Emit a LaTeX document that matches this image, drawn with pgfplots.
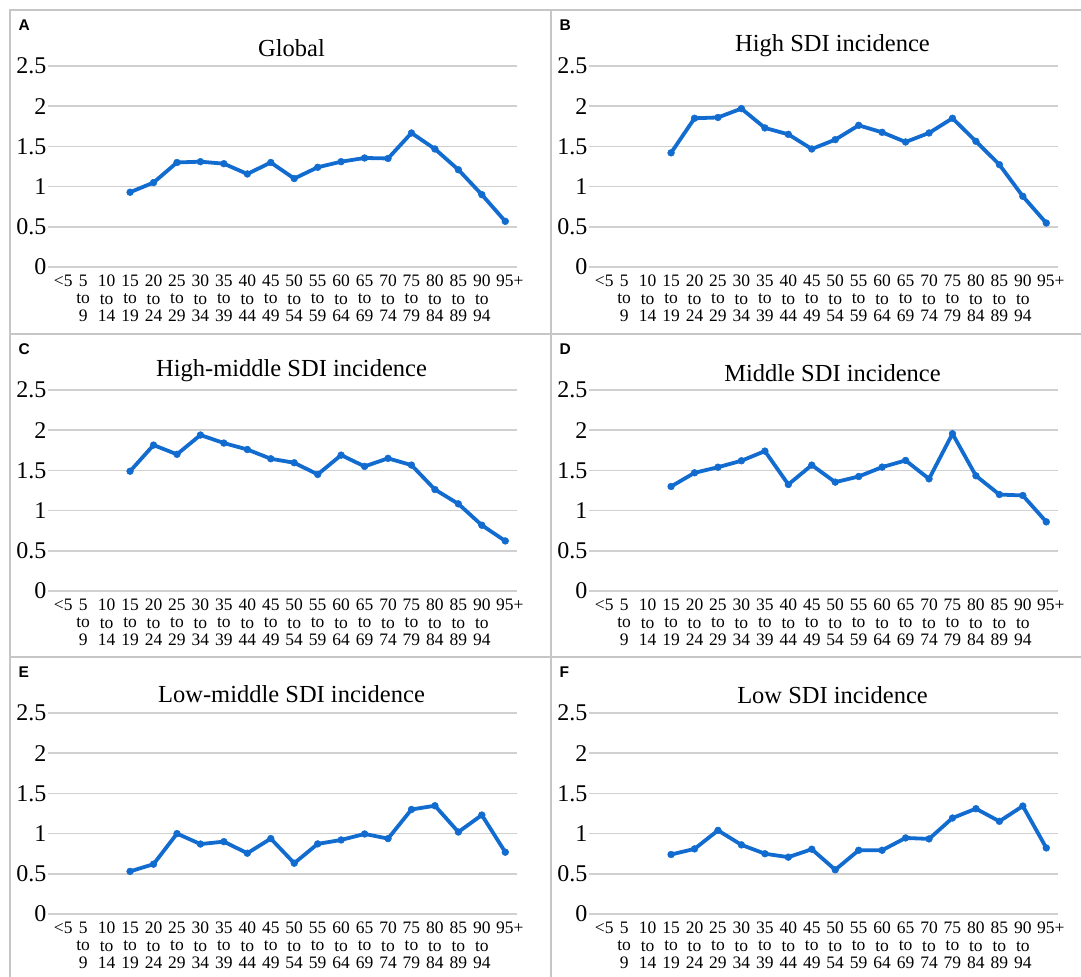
\documentclass[border=0pt]{standalone}
\usepackage{fontspec}
\setmainfont{Liberation Serif}
\newfontfamily\panelfont{Liberation Sans}
\usepackage{pgfplots}
\usepackage{pgfplotstable}
\pgfplotsset{compat=1.18}

\definecolor{lineblue}{RGB}{18,108,208}
\definecolor{gridgray}{RGB}{208,208,208}
\definecolor{framegray}{RGB}{198,198,198}

% three-line age-group label: "a / to / b", centred, fixed leading
\newcommand\agelab[2]{\vtop{\baselineskip=17.2bp\lineskiplimit=-20bp
  \halign{\hfil##\hfil\cr #1\cr to\cr #2\cr}}}

% incidence ratio by age group (x = age-group index, 0 = <5 ... 19 = 95+)
\pgfplotstableread{
x  A     B     C     D     E     F
3  0.93  1.42  1.49  1.30  0.53  0.74
4  1.05  1.85  1.815 1.47  0.62  0.81
5  1.30  1.86  1.70  1.54  1.00  1.04
6  1.31  1.97  1.94  1.62  0.87  0.86
7  1.285 1.73  1.84  1.74  0.90  0.75
8  1.157 1.65  1.76  1.325 0.756 0.707
9  1.30  1.468 1.645 1.566 0.938 0.806
10 1.10  1.584 1.595 1.354 0.632 0.55
11 1.24  1.762 1.45  1.424 0.872 0.793
12 1.31  1.675 1.69  1.541 0.921 0.793
13 1.356 1.555 1.55  1.624 0.996 0.946
14 1.35  1.667 1.65  1.395 0.938 0.934
15 1.667 1.85  1.566 1.956 1.30  1.194
16 1.468 1.563 1.262 1.433 1.347 1.31
17 1.21  1.273 1.084 1.20  1.02  1.153
18 0.90  0.879 0.818 1.188 1.231 1.343
19 0.568 0.547 0.623 0.86  0.769 0.822
}\incidence

\pgfplotsset{
  panel/.style={
    scale only axis, width=469bp, height=201bp,
    anchor=north west, clip=false,
    xmin=-0.5, xmax=19.5, ymin=0, ymax=2.5,
    ytick={0,0.5,1,1.5,2,2.5},
    xtick={0,...,19},
    xticklabels={{\kern7bp<5},{\agelab{5}{9}},{\agelab{10}{14}},
      {\agelab{15}{19}},{\agelab{20}{24}},{\agelab{25}{29}},
      {\agelab{30}{34}},{\agelab{35}{39}},{\agelab{40}{44}},
      {\agelab{45}{49}},{\agelab{50}{54}},{\agelab{55}{59}},
      {\agelab{60}{64}},{\agelab{65}{69}},{\agelab{70}{74}},
      {\agelab{75}{79}},{\agelab{80}{84}},{\agelab{85}{89}},
      {\agelab{90}{94}},{\kern9bp 95+}},
    ymajorgrids,
    grid style={draw=gridgray, line width=1.5bp},
    axis line style={draw=none},
    major tick length=0pt,
    /pgf/number format/assume math mode=true,
    yticklabel style={font=\fontsize{24bp}{26bp}\selectfont,
      anchor=east, inner sep=0pt, xshift=-1.5bp},
    xticklabel style={font=\fontsize{17.5bp}{17.2bp}\selectfont,
      anchor=north, inner sep=0pt, yshift=-8bp},
  },
  series/.style={color=lineblue, line width=3.8bp, mark=*,
    mark size=3.4bp, mark options={fill=lineblue, draw=lineblue, line width=0.5bp}},
}

% #1,#2 panel corner (bp), #3 column, #4 title, #5 letter, #6 title baseline offset
\newcommand\panel[6]{%
  \begin{axis}[panel, at={({#1bp+38bp},{-(#2bp+56bp)})}]
    \addplot[series] table[x=x, y=#3] {\incidence};
  \end{axis}
  \node[anchor=base, inner sep=0pt, font=\fontsize{24.5bp}{26bp}\selectfont]
    at ({#1bp+281.5bp},{-(#2bp+#6bp)}) {#4};
  \node[anchor=base west, inner sep=0pt,
    font=\panelfont\bfseries\fontsize{15.5bp}{17bp}\selectfont]
    at ({#1bp+8.5bp},{-(#2bp+20bp)}) {#5};
}

\begin{document}
\begin{tikzpicture}
  \useasboundingbox (0,0) rectangle (1081bp,-977bp);
  % panel frames
  \begin{scope}[draw=framegray, line width=2bp]
    \draw (10bp,-977bp) -- (10bp,-10bp) -- (1081bp,-10bp);
    \draw (551bp,-10bp) -- (551bp,-977bp);
    \draw (10bp,-334bp) -- (1081bp,-334bp);
    \draw (10bp,-657bp) -- (1081bp,-657bp);
  \end{scope}
  \panel{10}{10}{A}{Global}{A}{46.7}
  \panel{551}{10}{B}{High SDI incidence}{B}{41.7}
  \panel{10}{334}{C}{High-middle SDI incidence}{C}{42.7}
  \panel{551}{334}{D}{Middle SDI incidence}{D}{47}
  \panel{10}{657}{E}{Low-middle SDI incidence}{E}{45.3}
  \panel{551}{657}{F}{Low SDI incidence}{F}{46.3}
\end{tikzpicture}
\end{document}
